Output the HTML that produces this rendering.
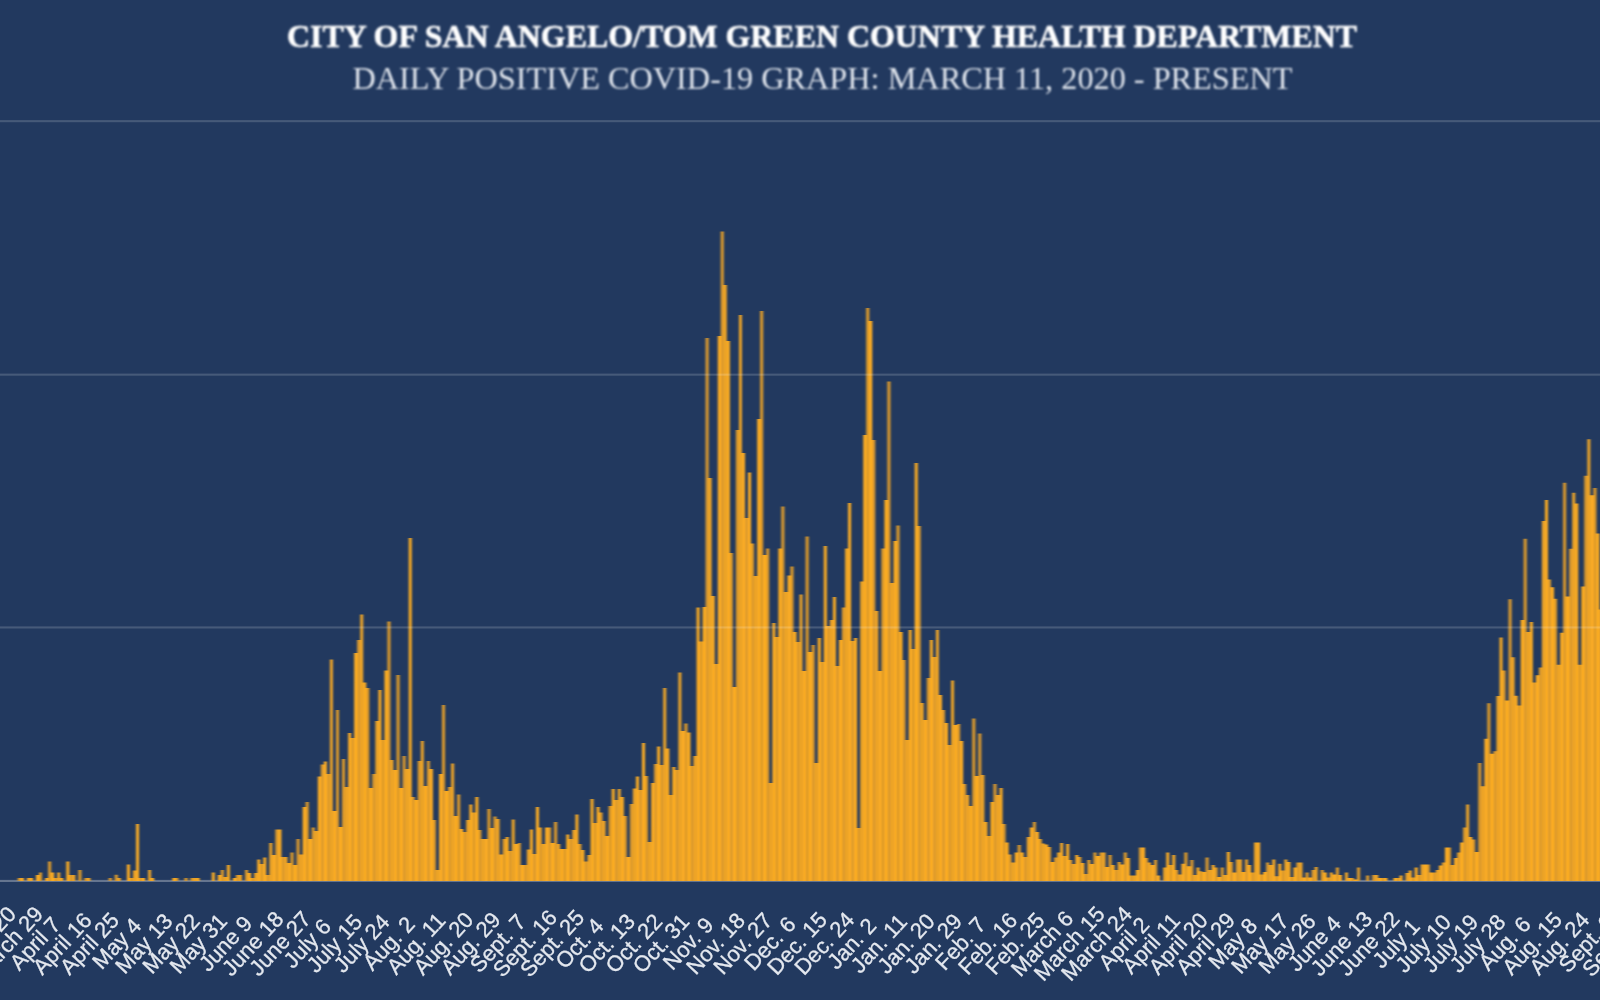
<!DOCTYPE html>
<html><head><meta charset="utf-8"><title>Daily Positive COVID-19 Graph</title>
<style>
html,body{margin:0;padding:0;background:#22395f;}
body{width:1600px;height:1000px;overflow:hidden;position:relative;font-family:"Liberation Sans",sans-serif;}
svg{position:absolute;left:0;top:0;}
</style></head><body>
<svg width="1600" height="1000" viewBox="0 0 1600 1000">
<defs>
<filter id="b" x="-1%" y="-5%" width="102%" height="110%"><feGaussianBlur stdDeviation="1.25 0.75"/></filter>
<filter id="t" x="-5%" y="-20%" width="110%" height="140%"><feGaussianBlur stdDeviation="0.7"/></filter>
<filter id="tt" x="-5%" y="-20%" width="110%" height="140%"><feGaussianBlur stdDeviation="0.85"/></filter>
<filter id="g" x="-1%" y="-300%" width="102%" height="700%"><feGaussianBlur stdDeviation="0 0.65"/></filter>
<pattern id="sp" patternUnits="userSpaceOnUse" x="0" y="0" width="15.15" height="1000">
<rect x="0" y="0" width="15.15" height="1000" fill="#ffae21"/>
<rect x="3.03" y="0" width="2.5" height="1000" fill="#d7972d"/>
<rect x="9.1" y="0" width="3" height="1000" fill="#d7972d"/>
<rect x="13.6" y="0" width="1.55" height="1000" fill="#dd9b2c"/>
</pattern>
<clipPath id="c"><rect x="0" y="0" width="1600" height="886"/></clipPath>
</defs>
<rect width="1600" height="1000" fill="#22395f"/>
<rect x="-10" y="879.9" width="1620" height="2.1" fill="#ffffff" fill-opacity="0.3" filter="url(#g)"/>
<g clip-path="url(#c)"><g filter="url(#b)" fill="url(#sp)"><path d="M-0.36,881.0V881.0H17.82V878.0H23.88V881.0H26.91V878.0H32.97V881.0H36.00V875.0H39.03V872.5H42.06V881.0H45.09V878.0H48.12V861.5H51.15V872.5H54.18V878.0H57.21V872.5H60.24V878.0H63.27V881.0H66.30V861.5H69.33V875.0H75.39V881.0H78.42V870.0H81.45V881.0H84.48V878.0H90.54V881.0H108.72V878.0H111.75V881.0H114.78V874.8H117.81V878.0H120.84V881.0H126.89V864.5H129.93V878.0H132.96V870.5H135.99V824.0H139.02V878.0H145.08V881.0H148.11V870.0H151.14V878.0H154.17V881.0H172.35V878.0H178.41V881.0H184.47V878.0H187.50V881.0H190.53V878.0H199.62V881.0H211.74V872.4H214.77V881.0H217.80V875.0H220.82V870.0H223.86V877.0H226.88V865.0H229.92V881.0H232.94V878.0H235.98V875.0H242.04V881.0H245.06V870.0H248.10V873.0H251.12V878.0H254.16V873.0H257.19V859.6H260.22V864.0H263.25V857.6H266.27V875.0H269.31V843.0H272.34V855.0H275.37V829.4H281.43V857.0H287.49V863.0H290.51V852.4H293.55V865.0H296.58V839.0H299.61V854.4H302.63V807.0H305.66V802.0H308.69V839.0H311.73V827.6H314.75V831.0H317.78V776.4H320.81V764.4H323.85V761.4H326.88V774.0H329.90V659.4H332.94V811.0H335.97V710.0H339.00V827.0H342.02V759.0H345.06V787.0H348.09V733.0H351.12V738.0H354.14V653.0H357.18V640.0H360.21V614.4H363.24V682.4H366.26V688.0H369.29V788.0H372.32V774.0H375.36V721.0H378.38V690.0H381.41V740.0H384.44V670.6H387.48V621.6H390.50V760.0H393.54V770.0H396.56V675.0H399.59V788.0H402.62V756.0H405.65V769.0H408.69V538.0H411.71V797.0H414.75V800.0H417.77V761.0H420.81V741.0H423.83V786.0H426.87V761.0H429.89V769.0H432.93V820.0H435.95V870.0H438.99V774.0H442.01V705.0H445.05V791.0H448.07V787.0H451.11V763.6H454.13V816.0H457.17V794.4H460.19V829.0H463.22V832.0H466.25V820.0H469.28V804.4H472.31V812.4H475.34V797.0H478.38V830.0H481.40V839.0H487.46V809.0H490.50V828.0H493.52V816.4H496.56V819.0H499.58V854.4H502.62V839.0H505.64V837.0H508.68V851.0H511.71V819.6H514.74V844.0H517.76V843.0H520.80V865.0H526.86V849.6H529.88V829.4H532.91V854.0H535.94V807.0H538.97V827.6H542.00V844.0H545.03V827.6H551.10V843.0H554.12V822.0H557.15V844.0H560.18V849.0H566.25V834.4H569.27V839.0H572.31V830.0H575.34V814.4H578.37V844.0H581.39V850.0H584.42V861.6H587.45V855.0H590.48V799.0H593.51V823.0H596.54V807.0H599.58V812.4H602.61V821.0H605.63V836.0H608.66V806.0H611.69V789.0H614.72V800.0H617.75V789.0H620.78V797.0H623.82V816.0H626.85V857.0H629.88V804.0H632.90V788.4H635.93V776.4H638.96V790.0H642.00V743.0H645.02V776.0H648.05V842.0H651.09V783.0H654.12V764.0H657.14V746.4H660.17V765.0H663.20V688.0H666.24V748.4H669.26V795.0H672.29V767.0H675.32V770.0H678.36V672.4H681.38V731.0H684.41V723.6H687.44V732.4H690.48V766.0H693.50V756.0H696.53V607.6H699.56V641.6H702.60V607.0H705.62V338.0H708.65V478.0H711.68V596.0H714.72V664.0H717.75V336.0H720.77V231.6H723.80V285.0H726.83V341.0H729.87V553.0H732.89V687.0H735.92V430.0H738.95V315.0H741.99V453.0H745.01V518.0H748.04V472.4H751.07V543.6H754.11V576.0H757.13V419.0H760.16V311.0H763.19V555.0H766.23V548.4H769.25V783.0H772.28V623.0H775.31V637.0H778.35V548.4H781.38V506.4H784.40V592.0H787.43V575.6H790.46V566.4H793.50V632.0H796.52V642.0H799.55V594.4H802.58V671.0H805.62V536.4H808.64V652.0H811.67V645.0H814.70V763.0H817.74V638.0H820.76V662.0H823.79V546.0H826.82V626.0H829.86V620.0H832.88V597.0H835.91V666.0H838.94V640.0H841.98V607.6H845.00V548.4H848.03V503.0H851.06V641.0H854.09V638.0H857.12V828.0H860.15V581.6H863.18V435.0H866.21V308.0H869.25V321.0H872.27V440.0H875.30V611.0H878.33V671.0H881.37V548.4H884.39V500.0H887.42V381.6H890.45V583.0H893.49V541.0H896.51V525.6H899.54V632.0H902.57V660.0H905.61V740.0H908.63V630.0H911.66V649.0H914.69V463.0H917.72V526.0H920.75V703.0H923.78V720.0H926.81V678.0H929.84V640.0H932.88V657.0H935.90V630.0H938.93V695.0H941.96V710.0H945.00V723.0H948.02V745.0H951.05V680.4H954.08V725.0H957.12V724.0H960.14V741.0H963.17V784.0H966.20V795.0H969.24V806.0H972.26V718.4H975.29V776.0H978.32V733.6H981.35V775.0H984.38V822.0H987.41V836.0H990.44V802.0H993.47V784.0H996.50V795.0H999.53V788.0H1002.56V824.0H1005.59V842.4H1008.62V854.4H1011.65V862.4H1014.68V852.4H1017.71V845.0H1020.75V852.4H1023.77V857.0H1026.80V837.0H1029.84V827.6H1032.87V822.0H1035.89V832.0H1038.92V839.0H1041.95V843.6H1044.98V844.4H1048.01V847.0H1051.05V862.0H1054.07V857.6H1057.11V852.4H1060.13V843.0H1063.16V856.0H1066.19V844.0H1069.22V860.0H1072.26V864.0H1075.28V855.0H1078.32V857.0H1081.34V863.0H1084.38V874.0H1087.40V860.0H1090.43V864.0H1093.46V852.4H1096.49V856.0H1099.53V852.5H1105.59V866.9H1108.61V855.0H1111.64V865.0H1114.67V870.0H1117.70V861.9H1120.73V864.4H1123.76V852.5H1126.80V858.1H1129.82V875.6H1135.88V870.0H1138.91V847.5H1144.97V858.1H1148.01V862.5H1151.03V865.0H1154.07V860.0H1157.09V875.6H1160.12V881.0H1163.15V867.5H1166.18V852.5H1169.22V865.0H1172.24V855.0H1175.28V870.0H1178.30V874.4H1181.34V863.8H1184.36V852.5H1187.39V866.2H1190.42V860.0H1193.45V875.0H1196.49V867.5H1199.51V871.2H1202.55V871.9H1205.57V857.5H1208.61V870.0H1211.63V865.0H1214.66V867.5H1217.70V876.9H1220.72V867.5H1223.76V875.0H1226.78V852.1H1229.82V861.9H1232.84V872.5H1235.88V859.4H1241.93V871.9H1244.97V859.4H1247.99V865.0H1251.03V872.5H1254.05V842.5H1260.11V874.4H1263.14V871.9H1266.17V862.5H1269.20V865.0H1272.24V859.4H1275.26V876.2H1278.30V863.8H1281.32V870.6H1284.36V859.4H1287.38V861.9H1290.41V876.9H1293.45V867.5H1296.47V862.5H1302.53V877.5H1305.57V872.5H1308.59V877.5H1311.62V870.0H1314.65V866.9H1317.68V881.0H1320.72V870.0H1323.74V872.5H1326.78V877.5H1329.80V872.5H1332.84V874.4H1335.86V867.5H1338.89V875.0H1341.92V881.0H1344.95V872.5H1347.99V878.1H1354.05V879.4H1357.07V867.5H1360.11V881.0H1366.16V875.6H1369.19V881.0H1372.22V875.0H1378.28V878.1H1387.38V881.0H1393.43V878.1H1399.49V875.6H1402.53V881.0H1405.55V873.1H1408.59V870.6H1411.61V877.5H1414.64V867.5H1417.67V875.0H1420.70V864.4H1429.80V872.5H1435.86V870.0H1438.88V865.6H1441.91V862.5H1444.94V847.5H1451.01V865.0H1454.03V858.1H1457.07V852.5H1460.09V842.5H1463.12V827.5H1466.15V804.4H1469.18V836.9H1472.22V839.4H1475.24V851.9H1478.28V763.1H1481.30V786.2H1484.34V738.8H1487.36V703.2H1490.39V753.8H1493.42V751.2H1496.45V696.0H1499.49V637.6H1502.51V670.4H1505.55V700.5H1508.57V599.2H1511.61V657.3H1514.63V695.7H1517.66V705.6H1520.69V620.0H1523.72V538.7H1526.76V632.0H1529.78V622.1H1532.82V682.4H1535.84V675.2H1538.88V667.5H1541.90V521.1H1544.93V500.0H1547.97V579.5H1550.99V587.2H1554.03V598.7H1557.05V664.8H1560.09V632.8H1563.11V482.7H1566.14V596.5H1569.17V548.8H1572.20V492.8H1575.24V503.5H1578.26V664.8H1581.30V586.4H1584.32V475.7H1587.36V439.2H1590.38V495.2H1593.41V488.0H1596.44V533.6H1599.47V609.6H1602.50V881.0Z"/></g></g>
<g fill="#ffffff" filter="url(#g)" fill-opacity="0.165">
<rect x="-10" y="120.1" width="1620" height="2.1"/>
<rect x="-10" y="373.6" width="1620" height="2.1"/>
<rect x="-10" y="626.4" width="1620" height="2.1"/>
</g>
<g filter="url(#tt)" font-family="Liberation Serif, serif" text-anchor="start">
<text x="287" y="46.6" font-size="32.5" font-weight="bold" fill="#ffffff" stroke="#ffffff" stroke-width="0.5" stroke-linejoin="round" textLength="1070" lengthAdjust="spacingAndGlyphs">CITY OF SAN ANGELO/TOM GREEN COUNTY HEALTH DEPARTMENT</text>
<text x="352.5" y="88.6" font-size="32" fill="#dfe4ec" textLength="940" lengthAdjust="spacingAndGlyphs">DAILY POSITIVE COVID-19 GRAPH: MARCH 11, 2020 - PRESENT</text>
</g>
<g filter="url(#t)" font-family="Liberation Sans, sans-serif" font-size="22" fill="#e4e8ef" stroke="#e4e8ef" stroke-width="0.3" text-anchor="middle"><text transform="translate(-41.2,948.6) rotate(-47)">March 11</text><text transform="translate(-14.0,948.6) rotate(-47)">March 20</text><text transform="translate(13.2,948.6) rotate(-47)">March 29</text><text transform="translate(40.5,948.6) rotate(-47)">April 7</text><text transform="translate(67.7,948.6) rotate(-47)">April 16</text><text transform="translate(94.9,948.6) rotate(-47)">April 25</text><text transform="translate(122.1,948.6) rotate(-47)">May 4</text><text transform="translate(149.3,948.6) rotate(-47)">May 13</text><text transform="translate(176.6,948.6) rotate(-47)">May 22</text><text transform="translate(203.8,948.6) rotate(-47)">May 31</text><text transform="translate(231.0,948.6) rotate(-47)">June 9</text><text transform="translate(258.2,948.6) rotate(-47)">June 18</text><text transform="translate(285.4,948.6) rotate(-47)">June 27</text><text transform="translate(312.7,948.6) rotate(-47)">July 6</text><text transform="translate(339.9,948.6) rotate(-47)">July 15</text><text transform="translate(367.1,948.6) rotate(-47)">July 24</text><text transform="translate(394.3,948.6) rotate(-47)">Aug. 2</text><text transform="translate(421.5,948.6) rotate(-47)">Aug. 11</text><text transform="translate(448.8,948.6) rotate(-47)">Aug. 20</text><text transform="translate(476.0,948.6) rotate(-47)">Aug. 29</text><text transform="translate(503.2,948.6) rotate(-47)">Sept. 7</text><text transform="translate(530.4,948.6) rotate(-47)">Sept. 16</text><text transform="translate(557.6,948.6) rotate(-47)">Sept. 25</text><text transform="translate(584.9,948.6) rotate(-47)">Oct. 4</text><text transform="translate(612.1,948.6) rotate(-47)">Oct. 13</text><text transform="translate(639.3,948.6) rotate(-47)">Oct. 22</text><text transform="translate(666.5,948.6) rotate(-47)">Oct. 31</text><text transform="translate(693.7,948.6) rotate(-47)">Nov. 9</text><text transform="translate(721.0,948.6) rotate(-47)">Nov. 18</text><text transform="translate(748.2,948.6) rotate(-47)">Nov. 27</text><text transform="translate(775.4,948.6) rotate(-47)">Dec. 6</text><text transform="translate(802.6,948.6) rotate(-47)">Dec. 15</text><text transform="translate(829.8,948.6) rotate(-47)">Dec. 24</text><text transform="translate(857.1,948.6) rotate(-47)">Jan. 2</text><text transform="translate(884.3,948.6) rotate(-47)">Jan. 11</text><text transform="translate(911.5,948.6) rotate(-47)">Jan. 20</text><text transform="translate(938.7,948.6) rotate(-47)">Jan. 29</text><text transform="translate(965.9,948.6) rotate(-47)">Feb. 7</text><text transform="translate(993.2,948.6) rotate(-47)">Feb. 16</text><text transform="translate(1020.4,948.6) rotate(-47)">Feb. 25</text><text transform="translate(1047.6,948.6) rotate(-47)">March 6</text><text transform="translate(1074.8,948.6) rotate(-47)">March 15</text><text transform="translate(1102.0,948.6) rotate(-47)">March 24</text><text transform="translate(1129.3,948.6) rotate(-47)">April 2</text><text transform="translate(1156.5,948.6) rotate(-47)">April 11</text><text transform="translate(1183.7,948.6) rotate(-47)">April 20</text><text transform="translate(1210.9,948.6) rotate(-47)">April 29</text><text transform="translate(1238.1,948.6) rotate(-47)">May 8</text><text transform="translate(1265.4,948.6) rotate(-47)">May 17</text><text transform="translate(1292.6,948.6) rotate(-47)">May 26</text><text transform="translate(1319.8,948.6) rotate(-47)">June 4</text><text transform="translate(1347.0,948.6) rotate(-47)">June 13</text><text transform="translate(1374.2,948.6) rotate(-47)">June 22</text><text transform="translate(1401.5,948.6) rotate(-47)">July 1</text><text transform="translate(1428.7,948.6) rotate(-47)">July 10</text><text transform="translate(1455.9,948.6) rotate(-47)">July 19</text><text transform="translate(1483.1,948.6) rotate(-47)">July 28</text><text transform="translate(1510.3,948.6) rotate(-47)">Aug. 6</text><text transform="translate(1537.6,948.6) rotate(-47)">Aug. 15</text><text transform="translate(1564.8,948.6) rotate(-47)">Aug. 24</text><text transform="translate(1592.0,948.6) rotate(-47)">Sept. 2</text><text transform="translate(1619.2,948.6) rotate(-47)">Sept. 11</text><text transform="translate(1646.4,948.6) rotate(-47)">Sept. 20</text></g>
</svg>
</body></html>
